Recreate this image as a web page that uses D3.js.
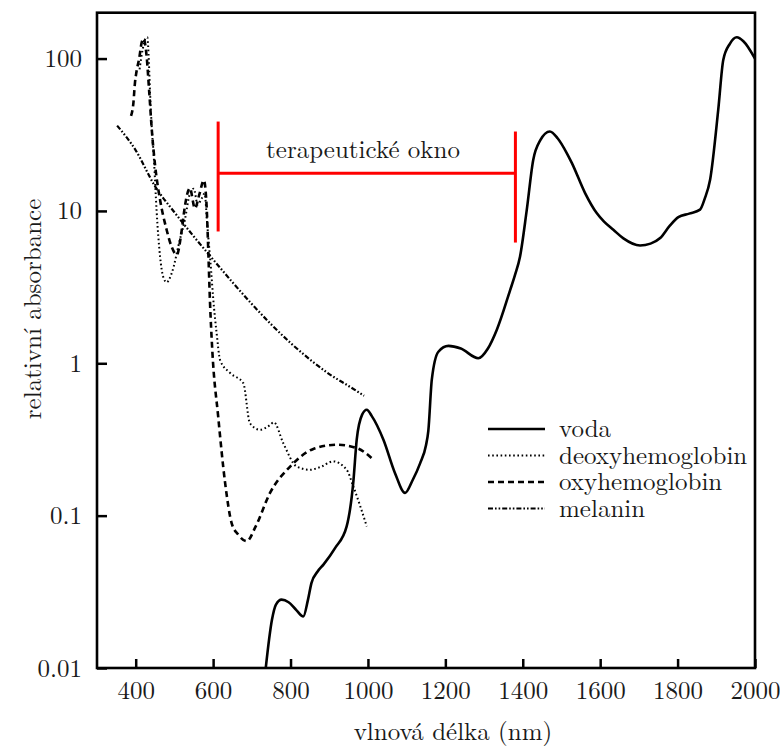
<!DOCTYPE html>
<html><head><meta charset="utf-8">
<script src="https://cdn.jsdelivr.net/npm/d3@7"></script>
<style>
body{margin:0;background:#fff;}
</style></head>
<body><svg id="c" width="780" height="747"></svg>
<script>
// ---- data ----
const xTicks = [400,600,800,1000,1200,1400,1600,1800,2000];
const yTicks = [0.01,0.1,1,10,100];
const yTickLabels = ["0.01","0.1","1","10","100"];
const seriesNames = ["voda","deoxyhemoglobin","oxyhemoglobin","melanin"];

const vodaNm  = [735,752,762,777,795,815,833,845,854,870,885,915,945,962,971,985,997,1010,1040,1070,1096,1115,1135,1150,1156,1165,1182,1208,1240,1285,1310,1333,1367,1380,1393,1410,1427,1445,1470,1490,1514,1527,1561,1591,1610,1634,1660,1703,1730,1755,1780,1802,1830,1858,1870,1884,1905,1918,1935,1953,1970,2000];
const vodaVal = [0.0095,0.0207,0.026,0.0281,0.027,0.024,0.0218,0.028,0.0361,0.043,0.0477,0.0612,0.085,0.164,0.315,0.46,0.495,0.45,0.315,0.19,0.141,0.17,0.221,0.29,0.36,0.78,1.19,1.30,1.25,1.08,1.25,1.66,3.0,3.8,5.03,10,21.6,29,33.2,30,23.9,20.6,13.1,9.68,8.5,7.52,6.6,5.93,6.1,6.64,8,9.1,9.6,10.2,12,16.0,46,98,125,138,130,100];

const deoxyNm  = [410,418,425,430,434,437,441,447,454,463,471,480,493,514,527,540,550,560,570,578,585,595,600,609,618,644,678,695,721,745,757,781,816,850,880,910,945,962,997];
const deoxyVal = [85,115,135,138,95,60,37,22,10,5,3.7,3.4,3.9,6.46,8.75,13,14,11,12,13,8,4,2.7,1.58,1.05,0.863,0.741,0.405,0.366,0.39,0.41,0.30,0.21,0.2,0.21,0.227,0.2,0.156,0.085];

const oxyNm  = [388,394,398,402,409,415,420,428,435,442,450,463,480,493,506,519,527,540,553,565,576,583,588,592,598,613,631,648,665,687,710,747,799,859,919,971,1014];
const oxyVal = [42,51,69,82,100,126,135,105,60,33,20,11.8,7.5,5.8,5.15,7.5,10.7,14.1,10.4,13,15.9,11,5,2.5,1.2,0.45,0.164,0.089,0.075,0.068,0.085,0.141,0.21,0.274,0.292,0.278,0.233];

const melNm  = [352,400,450,500,550,600,650,700,750,800,850,900,950,990];
const melVal = [36.3,25,14.5,9.8,6.8,4.8,3.4,2.45,1.8,1.36,1.06,0.85,0.71,0.612];

// therapeutic window bracket (nm, value)
const windowLeft = 613, windowRight = 1381;
const windowLeftTop = 38.6, windowLeftBottom = 7.33;
const windowRightTop = 33.2, windowRightBottom = 6.2;
const windowBar = 17.7;
const windowLabel = "terapeutické okno";

// ---- chart ----
const FONT = "'Latin Modern Roman', 'Liberation Serif', serif";
const svg = d3.select("#c");
const L = 97, R = 755, T = 12.7, B = 668;
const x = d3.scaleLinear().domain([300,2000]).range([L,R]);
const y = d3.scaleLog().domain([0.01,200]).range([B,T]);

svg.append("defs").append("clipPath").attr("id","clip")
  .append("rect").attr("x",L).attr("y",T).attr("width",R-L).attr("height",B-T);

const series = [
  {name:seriesNames[0], nm:vodaNm, val:vodaVal, dash:null, w:2.6},
  {name:seriesNames[1], nm:deoxyNm, val:deoxyVal, dash:"1.6,2.6", w:2},
  {name:seriesNames[2], nm:oxyNm, val:oxyVal, dash:"6,4", w:2.6},
  {name:seriesNames[3], nm:melNm, val:melVal, dash:"5,2,1.6,2,1.6,2", w:2.2}
];

const line = d3.line().x(d=>x(d[0])).y(d=>y(d[1])).curve(d3.curveMonotoneX);
const g = svg.append("g").attr("clip-path","url(#clip)");
series.forEach(s=>{
  const pts = s.nm.map((n,i)=>[n,s.val[i]]);
  g.append("path").datum(pts).attr("d",line)
    .attr("fill","none").attr("stroke","#000").attr("stroke-width",s.w)
    .attr("stroke-dasharray",s.dash).attr("stroke-linejoin","round");
});

// axes
const fs = 25;
const xAxis = d3.axisBottom(x).tickValues(xTicks).tickSizeInner(-9).tickSizeOuter(0).tickPadding(13).tickFormat(d3.format("d"));
const yAxis = d3.axisLeft(y).tickValues(yTicks).tickSizeInner(-10).tickSizeOuter(0).tickPadding(15).tickFormat((d,i)=>yTickLabels[i]);
const gx = svg.append("g").attr("transform",`translate(0,${B})`).call(xAxis);
const gy = svg.append("g").attr("transform",`translate(${L},0)`).call(yAxis);
[gx,gy].forEach(a=>{
  a.attr("font-family",null).attr("font-size",null);
  a.select(".domain").remove();
  a.selectAll(".tick line").attr("stroke","#000").attr("stroke-width",2.5);
  a.selectAll(".tick text").attr("fill","#1a1a1a")
    .style("font-family",FONT).style("font-size",fs+"px");
});
// frame
svg.append("rect").attr("x",L).attr("y",T).attr("width",R-L).attr("height",B-T)
  .attr("fill","none").attr("stroke","#000").attr("stroke-width",2.6);

function txt(sel){ return sel.style("font-family",FONT).style("font-size",fs+"px").attr("fill","#1a1a1a"); }

// axis labels
txt(svg.append("text")).attr("x",453).attr("y",740).attr("text-anchor","middle")
  .text("vlnová délka (nm)");
txt(svg.append("text")).attr("transform","translate(41,309) rotate(-90)").attr("text-anchor","middle")
  .text("relativní absorbance");

// therapeutic window
const red = "#ff0000";
const wg = svg.append("g").attr("stroke",red).attr("stroke-width",3);
wg.append("line").attr("x1",x(windowLeft)).attr("x2",x(windowLeft)).attr("y1",y(windowLeftTop)).attr("y2",y(windowLeftBottom));
wg.append("line").attr("x1",x(windowRight)).attr("x2",x(windowRight)).attr("y1",y(windowRightTop)).attr("y2",y(windowRightBottom));
wg.append("line").attr("x1",x(windowLeft)).attr("x2",x(windowRight)).attr("y1",y(windowBar)).attr("y2",y(windowBar));
txt(svg.append("text")).attr("x",363).attr("y",158).attr("text-anchor","middle")
  .text(windowLabel);

// legend
const lg = svg.append("g");
const ly0 = 429, ldy = 26.5;
series.forEach((s,i)=>{
  const yy = ly0 + i*ldy;
  lg.append("line").attr("x1",488).attr("x2",545).attr("y1",yy).attr("y2",yy)
    .attr("stroke","#000").attr("stroke-width",s.w).attr("stroke-dasharray",s.dash);
  txt(lg.append("text")).attr("x",559).attr("y",yy+8).text(s.name);
});
</script></body></html>
